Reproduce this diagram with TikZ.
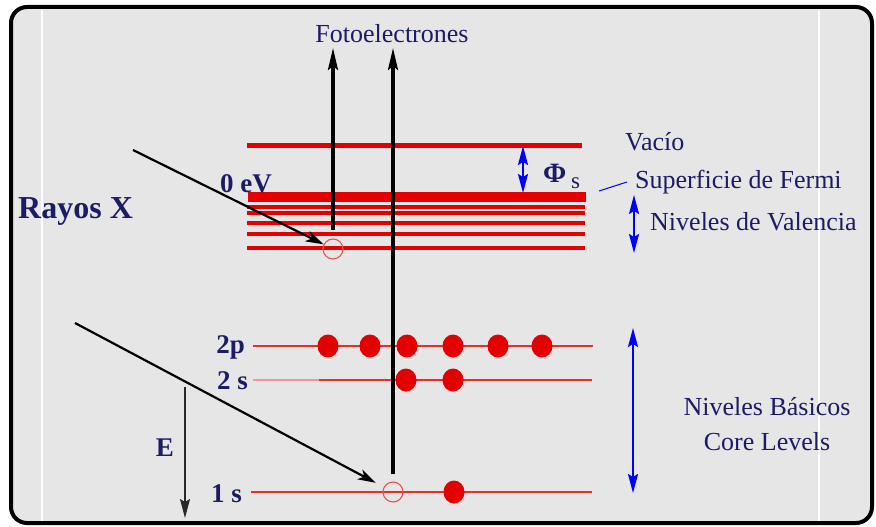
\documentclass[tikz,border=0pt]{standalone}
\usepackage{fontspec}
\setmainfont{Liberation Serif}
\usetikzlibrary{arrows.meta,shapes.geometric}
\definecolor{bg}{RGB}{230,230,230}
\definecolor{lvred}{RGB}{228,0,0}
\definecolor{corered}{RGB}{232,45,45}
\definecolor{palered}{RGB}{240,150,150}
\definecolor{holered}{RGB}{230,85,85}
\definecolor{navy}{RGB}{28,28,100}
\definecolor{darkline}{RGB}{40,40,40}
\begin{document}
\begin{tikzpicture}[x=1pt,y=-1pt,
  lbl/.style={text=navy,inner sep=0pt,font=\fontsize{26}{30}\selectfont},
  blbl/.style={text=navy,inner sep=0pt,font=\bfseries\fontsize{27}{30}\selectfont},
  dotel/.style={ellipse,fill=lvred,inner sep=0pt,minimum width=21pt,minimum height=23pt},
  hole/.style={circle,draw=holered,line width=1.1pt,inner sep=0pt,minimum size=20pt},
  valline/.style={lvred,line width=3.6pt},
  coreline/.style={corered,line width=1.8pt},
  xray/.style={black,line width=2.2pt,-{Stealth[length=18pt,width=11pt,inset=5pt]}},
  photo/.style={black,line width=3.2pt,-{Stealth[length=22pt,width=10pt,inset=4pt]}},
  bluearr/.style={blue,line width=2pt,{Stealth[length=19pt,width=10pt,inset=3pt]}-{Stealth[length=19pt,width=10pt,inset=3pt]}},
  earr/.style={darkline,line width=1.2pt,-{Stealth[length=19pt,width=10pt,inset=3pt]}}
]
\useasboundingbox (0,0) rectangle (876,527);
\fill[white] (0,0) rectangle (876,527);
\draw[black,line width=4pt,rounded corners=16pt,fill=bg] (11,7) rectangle (872,523);
\draw[white,line width=1.2pt] (42,10) -- (42,521);
\draw[white,line width=1.2pt] (819,10) -- (819,521);

% valence band region
\draw[lvred,line width=5pt] (247,145) -- (582,145);
\draw[lvred,line width=10pt] (248,197) -- (586,197);
\foreach \yy in {207,213,223,234,248} \draw[valline] (247,\yy) -- (585,\yy);

% core levels
\draw[coreline] (253,346) -- (593,346);
\draw[palered,line width=1.8pt] (253,380) -- (319,380);
\draw[coreline] (319,380) -- (592,380);
\draw[coreline] (251,492) -- (592,492);

% electrons
\node[dotel] (p1) at (328,346) {};
\node[dotel] (p2) at (370,346) {};
\node[dotel] (p3) at (407,346) {};
\node[dotel] (p4) at (453,346) {};
\node[dotel] (p5) at (498,346) {};
\node[dotel] (p6) at (542,346) {};
\node[dotel] (s1) at (406,380) {};
\node[dotel] (s2) at (453,380) {};
\node[dotel] (k1) at (454,492) {};

% holes
\node[hole] (h1) at (333,249) {};
\node[hole] (h2) at (393,492) {};

% labels
\node[lbl,anchor=base] (fot) at (392,43) {Fotoelectrones};
\node[lbl,anchor=base west] (vac) at (625,150) {Vacío};
\node[lbl,anchor=base west] (fermi) at (635,188) {Superficie de Fermi};
\node[lbl,anchor=base west] (val) at (650,230) {Niveles de Valencia};
\node[lbl,anchor=base] (basic) at (767,415) {Niveles Básicos};
\node[lbl,anchor=base] (corel) at (767,450) {Core Levels};
\node[text=navy,inner sep=0pt,anchor=base west,font=\bfseries\fontsize{32}{34}\selectfont] (rayos) at (18,218) {Rayos X};
\node[blbl,anchor=base west] (zero) at (220,192) {0 eV};
\node[blbl,anchor=base east] (l2p) at (245,353) {2p};
\node[blbl,anchor=base east] (l2s) at (248,389) {2 s};
\node[blbl,anchor=base east] (l1s) at (242,502) {1 s};
\node[blbl,anchor=base] (elbl) at (165,456) {E};
\node[text=navy,inner sep=0pt,anchor=base west,font=\bfseries\fontsize{28}{30}\selectfont] (phi) at (543,182) {Φ};
\node[text=navy,inner sep=0pt,anchor=base west,font=\fontsize{23}{24}\selectfont] (phis) at (571,188) {s};

% coordinates for free ends
\coordinate (xa1) at (133,150);
\coordinate (xa2) at (75,323);
\coordinate (t1) at (333,48);
\coordinate (t2) at (393,48);
\coordinate (phitop) at (523,146);
\coordinate (phibot) at (523,193);
\coordinate (valtop) at (634,195);
\coordinate (valbot) at (634,253);
\coordinate (coretop) at (633,328);
\coordinate (corebot) at (633,493);
\coordinate (etop) at (185,387);
\coordinate (ebot) at (185,518);
\coordinate (fp) at (599,191);
\coordinate (fq) at (627,182);

% photoelectron arrows
\draw[photo,shorten <=8pt] (h1) -- (t1);
\draw[photo,shorten <=7pt] (h2) -- (t2);

% x-ray arrows
\draw[xray] (xa1) -- (h1);
\draw[xray,shorten >=9pt] (xa2) -- (h2);

% blue markers
\draw[bluearr] (phitop) -- (phibot);
\draw[bluearr] (valtop) -- (valbot);
\draw[bluearr] (coretop) -- (corebot);
\draw[blue,line width=1pt] (fp) -- (fq);

% energy axis
\draw[earr] (etop) -- (ebot);
\end{tikzpicture}
\end{document}
